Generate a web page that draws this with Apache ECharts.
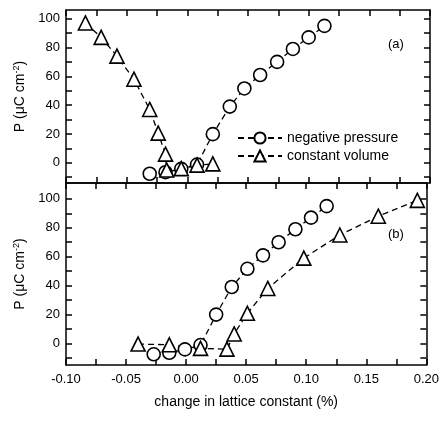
<!DOCTYPE html>
<html><head><meta charset="utf-8">
<script src="https://cdn.jsdelivr.net/npm/echarts@6/dist/echarts.min.js"></script>
<style>html,body{margin:0;padding:0;background:#fff}#c{width:442px;height:423px}</style>
</head><body><div id="c"></div>
<script>
// panel (a)
const aNegX = [-0.031, -0.018, -0.005, 0.008, 0.021, 0.035, 0.047, 0.060, 0.074, 0.087, 0.100, 0.113];
const aNegY = [-7.6, -6.5, -4.2, -1.2, 19.9, 39, 51.6, 60.9, 70, 79, 87, 95];
const aVolX = [-0.084, -0.071, -0.058, -0.044, -0.031, -0.024, -0.018, -0.017, -0.005, 0.008, 0.021];
const aVolY = [97, 87, 74, 58, 37, 20.6, 6, -5, -4, -1.6, -0.7];
// panel (b)
const bNegX = [-0.027, -0.014, -0.001, 0.012, 0.025, 0.038, 0.051, 0.064, 0.077, 0.091, 0.104, 0.117];
const bNegY = [-7.6, -6.5, -4.2, -1.2, 19.9, 39, 51.6, 60.9, 70, 79, 87, 95];
const bVolX = [-0.040, -0.014, 0.012, 0.034, 0.040, 0.051, 0.068, 0.098, 0.128, 0.160, 0.1925];
const bVolY = [-0.5, -1, -3.5, -4, 6.5, 20.8, 38, 59, 75, 88, 99];

const xLabels = [-0.10, -0.05, 0.00, 0.05, 0.10, 0.15, 0.20];
const xTicks = [-0.1, -0.075, -0.05, -0.025, 0, 0.025, 0.05, 0.075, 0.1, 0.125, 0.15, 0.175, 0.2];
const yLabels = [0, 20, 40, 60, 80, 100];
const yTicks = [-10, 0, 10, 20, 30, 40, 50, 60, 70, 80, 90, 100];

const zip = (xs, ys) => xs.map((x, i) => [x, ys[i]]);
const font = 'Liberation Sans';
const line = { color: '#000', width: 1.5 };

function xAxis(grid, pos, labels, name) {
  return {
    type: 'value', gridIndex: grid, position: pos, min: -0.1, max: 0.2,
    axisLine: { onZero: false, lineStyle: line },
    splitLine: { show: false },
    axisTick: { inside: true, length: 6, lineStyle: line, customValues: xTicks },
    axisLabel: labels ? { customValues: xLabels, color: '#000', fontFamily: font, fontSize: 13, margin: 8,
      formatter: v => v.toFixed(2) } : { show: false },
    name: name || '', nameLocation: 'middle', nameGap: 30,
    nameTextStyle: { color: '#000', fontFamily: font, fontSize: 14 }
  };
}
function yAxis(grid, pos, min, max, labels) {
  return {
    type: 'value', gridIndex: grid, position: pos, min: min, max: max,
    axisLine: { onZero: false, lineStyle: line },
    splitLine: { show: false },
    axisTick: { inside: true, length: 6, lineStyle: line, customValues: yTicks },
    axisLabel: labels ? { customValues: yLabels, color: '#000', fontFamily: font, fontSize: 13, margin: 6 } : { show: false },
    name: labels ? 'P (μC cm{s|-2})' : '', nameLocation: 'middle', nameGap: 32,
    nameTextStyle: { color: '#000', fontFamily: font, fontSize: 14, rich: { s: { fontSize: 9, padding: [0, 0, 8, 0] } } }
  };
}
function series(name, data, xi, yi, sym) {
  return {
    name: name, type: 'line', data: data, xAxisIndex: xi, yAxisIndex: yi,
    symbol: sym, symbolSize: sym === 'circle' ? 13 : 14,
    itemStyle: { color: '#fff', borderColor: '#000', borderWidth: 1.6 },
    lineStyle: { color: '#000', width: 1.3, type: [6, 4] },
    animation: false
  };
}

const chart = echarts.init(document.getElementById('c'));
chart.setOption({
  backgroundColor: '#fff',
  grid: [
    { left: 66, right: 12, top: 10, height: 173 },
    { left: 66, right: 12, top: 183, height: 182 }
  ],
  xAxis: [xAxis(0, 'bottom', false), xAxis(0, 'top', false),
          xAxis(1, 'bottom', true, 'change in lattice constant (%)'), xAxis(1, 'top', false)],
  yAxis: [yAxis(0, 'left', -14, 106, true), yAxis(0, 'right', -14, 106, false),
          yAxis(1, 'left', -15, 111, true), yAxis(1, 'right', -15, 111, false)],
  legend: {
    orient: 'vertical', left: 232, top: 126, itemGap: 4, itemWidth: 44, itemHeight: 14,
    textStyle: { color: '#000', fontFamily: font, fontSize: 14 },
    data: ['negative pressure', 'constant volume']
  },
  graphic: [
    { type: 'text', left: 388, top: 38, style: { text: '(a)', fontFamily: font, fontSize: 13, fill: '#000' } },
    { type: 'text', left: 388, top: 228, style: { text: '(b)', fontFamily: font, fontSize: 13, fill: '#000' } }
  ],
  series: [
    series('negative pressure', zip(aNegX, aNegY), 0, 0, 'circle'),
    series('constant volume', zip(aVolX, aVolY), 0, 0, 'triangle'),
    series('negative pressure', zip(bNegX, bNegY), 2, 2, 'circle'),
    series('constant volume', zip(bVolX, bVolY), 2, 2, 'triangle')
  ]
});
</script></body></html>
